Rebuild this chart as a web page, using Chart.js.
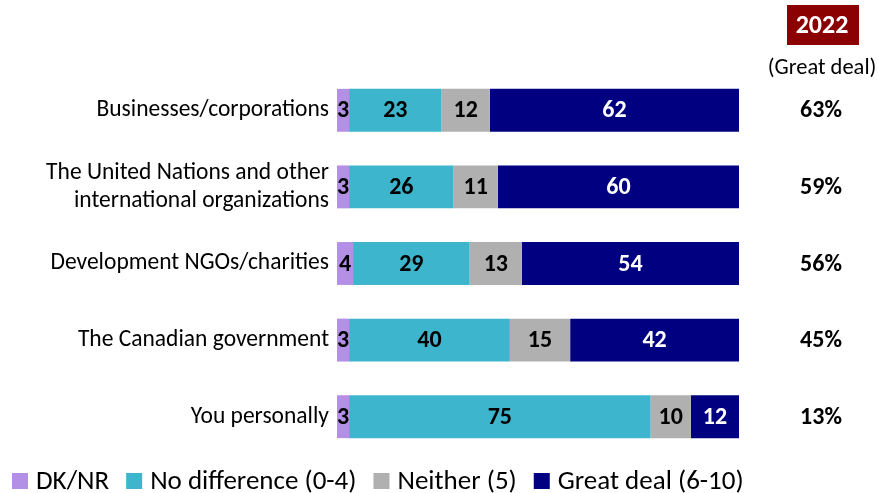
<!DOCTYPE html>
<html>
<head>
<meta charset="utf-8">
<script src="https://cdn.jsdelivr.net/npm/chart.js@4/dist/chart.umd.min.js"></script>
<style>
  html, body { margin: 0; padding: 0; background: #fff; }
  canvas { display: block; }
</style>
</head>
<body>
<canvas id="chart" width="878" height="493"></canvas>
<script>
// data
const categories = [
    'Businesses/corporations',
    ['The United Nations and other', 'international organizations'],
    'Development NGOs/charities',
    'The Canadian government',
    'You personally'
];
const dkNr = [3, 3, 4, 3, 3];
const noDifference = [23, 26, 29, 40, 75];
const neither = [12, 11, 13, 15, 10];
const greatDeal = [62, 60, 54, 42, 12];
const greatDeal2022 = ['63%', '59%', '56%', '45%', '13%'];

const FONT = 'Carlito, "Noto Sans", sans-serif';

// numbers in the middle of each segment
const segmentLabels = {
    id: 'segmentLabels',
    afterDatasetsDraw(chart) {
        const ctx = chart.ctx;
        ctx.save();
        ctx.font = 'bold 24px ' + FONT;
        ctx.textAlign = 'center';
        ctx.textBaseline = 'middle';
        chart.data.datasets.forEach((ds, i) => {
            const meta = chart.getDatasetMeta(i);
            meta.data.forEach((bar, j) => {
                const x = (bar.x + bar.base) / 2;
                ctx.fillStyle = ds.labelColor;
                ctx.fillText(ds.data[j], x, bar.y + 1);
            });
        });
        ctx.restore();
    }
};

// 2022 column on the right + legend at the bottom
const extras = {
    id: 'extras',
    afterDraw(chart) {
        const ctx = chart.ctx;
        const cx = 822;
        ctx.save();
        ctx.fillStyle = '#8b0000';
        ctx.fillRect(787, 5, 72, 40);
        ctx.fillStyle = '#fff';
        ctx.font = 'bold 26px ' + FONT;
        ctx.textAlign = 'center';
        ctx.textBaseline = 'middle';
        ctx.fillText('2022', cx, 26);
        ctx.fillStyle = '#000';
        ctx.font = '22.5px ' + FONT;
        ctx.fillText('(Great deal)', cx, 68);
        ctx.font = 'bold 24px ' + FONT;
        const meta = chart.getDatasetMeta(0);
        meta.data.forEach((bar, j) => {
            ctx.fillText(greatDeal2022[j], 821, bar.y + 1);
        });

        // legend
        ctx.font = '27px ' + FONT;
        ctx.textAlign = 'left';
        let x = 12;
        chart.data.datasets.forEach(ds => {
            ctx.fillStyle = ds.backgroundColor;
            ctx.fillRect(x, 473, 16, 16);
            ctx.fillStyle = '#000';
            ctx.fillText(ds.label, x + 24, 482);
            x += 24 + ctx.measureText(ds.label).width + 17;
        });
        ctx.restore();
    }
};

const ctx = document.getElementById('chart').getContext('2d');
new Chart(ctx, {
    type: 'bar',
    data: {
        labels: categories,
        datasets: [
            { label: 'DK/NR', data: dkNr, backgroundColor: '#b48fe6', labelColor: '#000' },
            { label: 'No difference (0-4)', data: noDifference, backgroundColor: '#3db6cd', labelColor: '#000' },
            { label: 'Neither (5)', data: neither, backgroundColor: '#b0b0b0', labelColor: '#000' },
            { label: 'Great deal (6-10)', data: greatDeal, backgroundColor: '#000080', labelColor: '#fff' }
        ]
    },
    options: {
        responsive: false,
        animation: false,
        indexAxis: 'y',
        layout: { padding: { top: 72, right: 139, left: 0, bottom: 38 } },
        datasets: {
            bar: { categoryPercentage: 1, barPercentage: 0.56 }
        },
        scales: {
            x: { stacked: true, min: 0, max: 100, display: false },
            y: {
                stacked: true,
                grid: { display: false, drawTicks: false },
                border: { display: false },
                afterFit(scale) { scale.width = 337; },
                ticks: {
                    color: '#000',
                    padding: 8,
                    font: { family: FONT, size: 23.5 }
                }
            }
        },
        plugins: {
            tooltip: { enabled: false },
            legend: { display: false }
        }
    },
    plugins: [segmentLabels, extras]
});
</script>
</body>
</html>
